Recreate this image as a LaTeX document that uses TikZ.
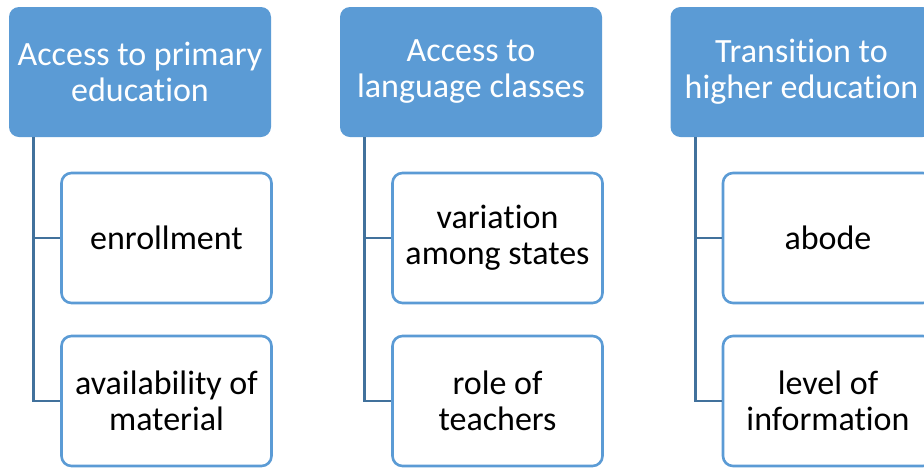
\documentclass[tikz,border=0pt]{standalone}
\usepackage{fontspec}
\setmainfont{Carlito}[Ligatures=NoCommon]
\usetikzlibrary{calc}
\definecolor{headblue}{HTML}{5B9BD5}
\definecolor{linkblue}{HTML}{41719C}
\tikzset{
  headbox/.style={rectangle, rounded corners=10pt, fill=headblue, text=white,
    minimum width=262pt, minimum height=130pt, inner sep=0pt, align=center,
    font=\fontsize{34}{36}\selectfont},
  itembox/.style={rectangle, rounded corners=10pt, draw=headblue, line width=2.6pt,
    fill=white, text=black, minimum width=210pt, minimum height=130pt,
    inner sep=0pt, align=center, font=\fontsize{34}{36}\selectfont},
  link/.style={draw=linkblue, line width=2.8pt},
}
\begin{document}
\begin{tikzpicture}[x=1pt, y=-1pt]
  \useasboundingbox (0,0) rectangle (924,467);
  \fill[white] (0,0) rectangle (924,467);
  \clip (0,0) rectangle (924,467);

  % column 1
  \node[headbox] (h1) at (140,72) {Access to primary\\education};
  \node[itembox] (a1) at (166.5,238) {enrollment};
  \node[itembox] (a2) at (166.5,401) {availability of\\material};
  \coordinate (r1) at ($(h1.south west)+(25,0)$);
  \draw[link] (r1) |- (a1.west);
  \draw[link] (r1) |- (a2.west);

  % column 2
  \node[headbox] (h2) at (471,72) {Access to\\language classes};
  \node[itembox] (b1) at (497.5,238) {variation\\among states};
  \node[itembox] (b2) at (497.5,401) {role of\\teachers};
  \coordinate (r2) at ($(h2.south west)+(25,0)$);
  \draw[link] (r2) |- (b1.west);
  \draw[link] (r2) |- (b2.west);

  % column 3
  \node[headbox] (h3) at (801.5,72) {Transition to\\higher education};
  \node[itembox] (c1) at (828,238) {abode};
  \node[itembox] (c2) at (828,401) {level of\\information};
  \coordinate (r3) at ($(h3.south west)+(25,0)$);
  \draw[link] (r3) |- (c1.west);
  \draw[link] (r3) |- (c2.west);
\end{tikzpicture}
\end{document}
